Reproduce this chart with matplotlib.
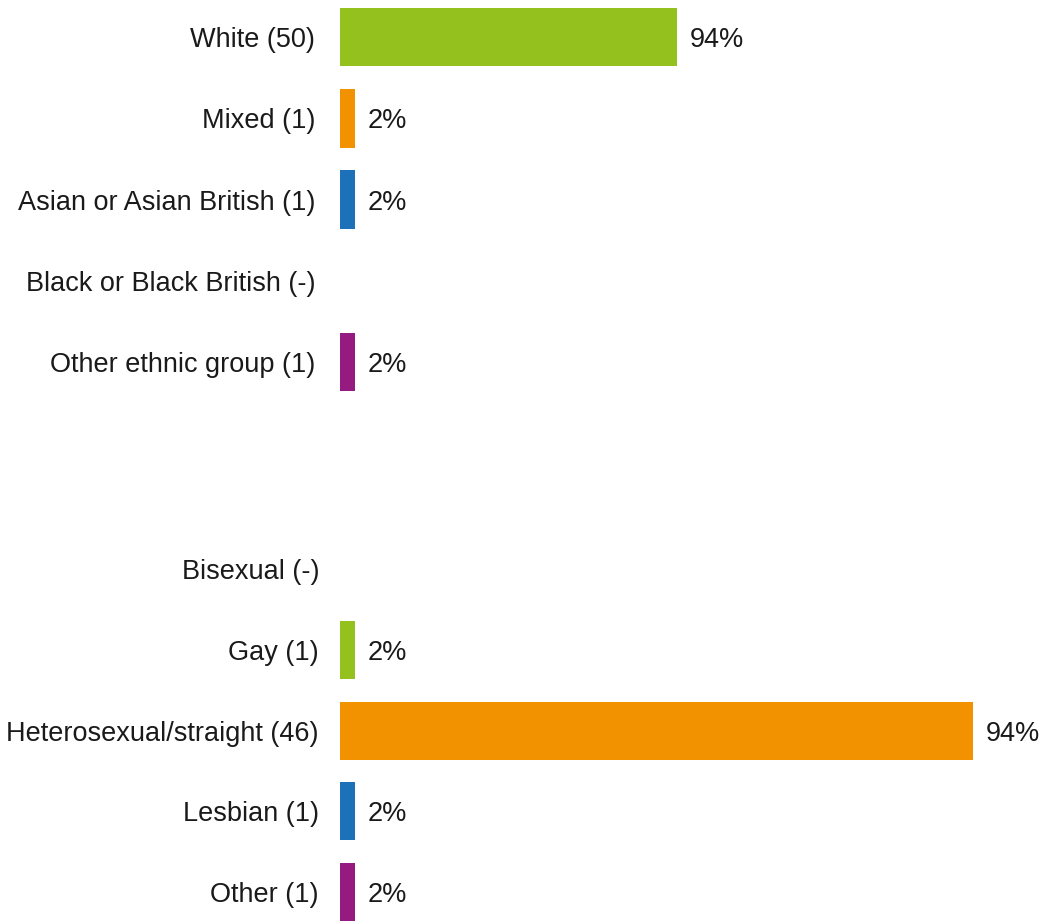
import numpy as np
import matplotlib
matplotlib.use("Agg")
import matplotlib.pyplot as plt

plt.rcParams['font.family'] = ['Liberation Sans', 'DejaVu Sans']

# Données : origine ethnique
eth_labels = ["White (50)", "Mixed (1)", "Asian or Asian British (1)",
              "Black or Black British (-)", "Other ethnic group (1)"]
eth_values = [94, 2, 2, 0, 2]

# Données : orientation sexuelle
sex_labels = ["Bisexual (-)", "Gay (1)", "Heterosexual/straight (46)",
              "Lesbian (1)", "Other (1)"]
sex_values = [0, 2, 94, 2, 2]

colors = ["#95C11F", "#F39200", "#1D71B8", "#951B81"]
txt = "#1a1a1a"
fs = 19.5

W, H = 1048, 922
fig = plt.figure(figsize=(W / 100, H / 100), dpi=100)


def panel(rect_px, labels, values, cols, xmax, minw, lpad, vpad):
    x0, ytop, w, h = rect_px
    ax = fig.add_axes([x0 / W, 1 - (ytop + h) / H, w / W, h / H])
    y = np.arange(len(labels))
    shown = [max(v, minw) if v > 0 else 0 for v in values]
    ax.barh(y, shown, height=0.72, color=cols)
    for yi, v, s in zip(y, values, shown):
        if v > 0:
            ax.annotate(f"{v}%", (s, yi), xytext=(vpad * 0.72, 0),
                        textcoords="offset points", va="center_baseline",
                        ha="left", fontsize=fs, color=txt)
    ax.set_yticks(y)
    ax.set_yticklabels(labels, fontsize=fs, color=txt)
    ax.tick_params(axis="y", length=0, pad=lpad * 0.72)
    ax.set_xticks([])
    ax.set_xlim(0, xmax)
    ax.set_ylim(len(labels) - 0.5, -0.5)
    for s in ax.spines.values():
        s.set_visible(False)
    return ax


# panneau du haut : 94 % -> 337 px
panel((340, -3.5, 360, 406), eth_labels, eth_values,
      [colors[0], colors[1], colors[2], colors[3], colors[3]],
      94 * 360 / 337, 4.2, 25, 13)

# panneau du bas : 94 % -> 633 px
panel((340, 528.6, 690, 404), sex_labels, sex_values,
      [colors[0], colors[0], colors[1], colors[2], colors[3]],
      94 * 690 / 633, 2.2, 21, 13)

fig.savefig("out.png", dpi=100)
